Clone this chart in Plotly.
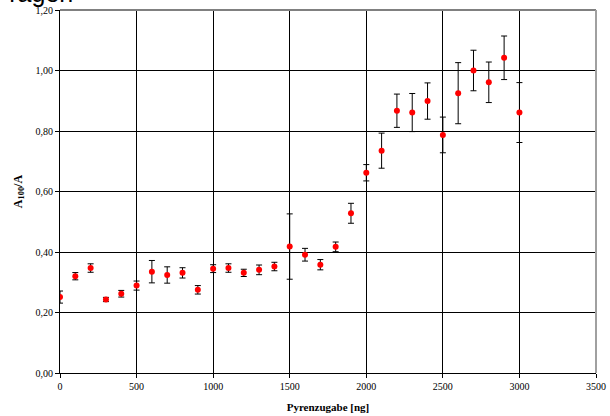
import plotly.graph_objects as go

# Pyrene additions [ng] and measured A100/A ratios with standard deviations
pyrene_ng = [0, 100, 200, 300, 400, 500, 600, 700, 800, 900,
             1000, 1100, 1200, 1300, 1400, 1500, 1600, 1700, 1800, 1900,
             2000, 2100, 2200, 2300, 2400, 2500, 2600, 2700, 2800, 2900, 3000]
ratio = [0.251, 0.320, 0.347, 0.243, 0.262, 0.289, 0.335, 0.324, 0.331, 0.275,
         0.345, 0.347, 0.331, 0.341, 0.352, 0.418, 0.391, 0.358, 0.417, 0.528,
         0.662, 0.735, 0.867, 0.861, 0.899, 0.787, 0.925, 1.000, 0.961, 1.042, 0.861]
ratio_sd = [0.020, 0.012, 0.014, 0.007, 0.011, 0.015, 0.037, 0.027, 0.017, 0.014,
            0.013, 0.014, 0.012, 0.016, 0.014, 0.108, 0.021, 0.017, 0.016, 0.033,
            0.027, 0.058, 0.055, 0.063, 0.060, 0.059, 0.101, 0.067, 0.067, 0.072, 0.099]

x_ticks = [0, 500, 1000, 1500, 2000, 2500, 3000, 3500]
y_ticks = [0.0, 0.2, 0.4, 0.6, 0.8, 1.0, 1.2]

serif = "Liberation Serif, Times New Roman, serif"

fig = go.Figure()
fig.add_trace(go.Scatter(
    x=pyrene_ng, y=ratio, mode="markers",
    marker=dict(color="#ff0000", size=6, line=dict(width=0)),
    error_y=dict(type="data", array=ratio_sd, visible=True,
                 color="black", thickness=1, width=3),
    showlegend=False,
))

fig.update_layout(
    width=610, height=416,
    margin=dict(l=60, r=14, t=10, b=43),
    paper_bgcolor="white", plot_bgcolor="white",
    separators=",.",
    font=dict(family=serif, size=10, color="black"),
    xaxis=dict(
        range=[0, 3500], tickvals=x_ticks, tickformat="d",
        showgrid=True, gridcolor="black", gridwidth=1,
        showline=True, linecolor="black", linewidth=1,
        ticks="outside", ticklen=4, tickcolor="black",
        zeroline=False, automargin=False,
        title=dict(text="<b>Pyrenzugabe [ng]</b>",
                   font=dict(family=serif, size=11), standoff=12),
    ),
    yaxis=dict(
        range=[0, 1.2], tickvals=y_ticks, tickformat=".2f",
        showgrid=True, gridcolor="black", gridwidth=1,
        showline=True, linecolor="black", linewidth=1,
        ticks="outside", ticklen=4, tickcolor="black",
        zeroline=False, automargin=False,
        title=dict(text="<b>A<sub>100</sub>/A</b>",
                   font=dict(family=serif, size=12), standoff=10),
    ),
    shapes=[
        dict(type="line", xref="paper", yref="paper", x0=0, x1=1, y0=1, y1=1,
             line=dict(color="#808080", width=2)),
        dict(type="line", xref="paper", yref="paper", x0=1, x1=1, y0=0, y1=1,
             line=dict(color="#a0a0a0", width=2)),
    ],
    annotations=[
        dict(text="Fragen", xref="paper", yref="paper", x=-0.126, y=1.0,
             xanchor="left", yanchor="bottom", yshift=1, showarrow=False,
             font=dict(family="Liberation Sans, Arial, sans-serif", size=25, color="black")),
    ],
)

fig.write_html("out.html")
